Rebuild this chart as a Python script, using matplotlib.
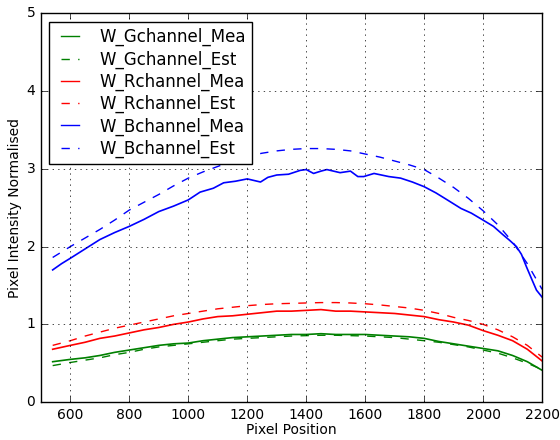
import matplotlib
matplotlib.use('Agg')
import matplotlib.pyplot as plt

# Положения по оси X (пиксели)
x_grid = [540, 600, 650, 700, 750, 800, 850, 900, 950, 1000, 1050, 1100, 1150, 1200,
          1250, 1300, 1350, 1400, 1450, 1500, 1550, 1600, 1650, 1700, 1750, 1800,
          1850, 1900, 1950, 2000, 2050, 2100, 2150, 2200]

# Зелёный канал
g_mea = [0.52, 0.55, 0.57, 0.60, 0.64, 0.67, 0.70, 0.73, 0.75, 0.76, 0.79, 0.81, 0.83, 0.84,
         0.85, 0.86, 0.87, 0.87, 0.88, 0.87, 0.87, 0.87, 0.86, 0.85, 0.84, 0.82,
         0.78, 0.75, 0.72, 0.69, 0.66, 0.60, 0.52, 0.41]
g_est = [0.47, 0.51, 0.54, 0.57, 0.61, 0.64, 0.68, 0.71, 0.73, 0.75, 0.77, 0.79, 0.81, 0.82,
         0.83, 0.84, 0.85, 0.855, 0.86, 0.86, 0.855, 0.85, 0.84, 0.83, 0.81, 0.79,
         0.77, 0.74, 0.71, 0.67, 0.63, 0.57, 0.50, 0.42]

# Красный канал
r_mea = [0.68, 0.73, 0.77, 0.82, 0.85, 0.89, 0.93, 0.96, 1.00, 1.03, 1.07, 1.10, 1.11, 1.13,
         1.15, 1.17, 1.17, 1.18, 1.19, 1.17, 1.17, 1.16, 1.15, 1.14, 1.12, 1.10,
         1.06, 1.03, 0.99, 0.92, 0.86, 0.79, 0.68, 0.53]
r_est = [0.73, 0.79, 0.85, 0.90, 0.95, 0.99, 1.03, 1.07, 1.11, 1.14, 1.17, 1.20, 1.22, 1.24,
         1.255, 1.265, 1.27, 1.275, 1.28, 1.28, 1.275, 1.265, 1.25, 1.23, 1.21, 1.18,
         1.14, 1.09, 1.05, 1.00, 0.93, 0.84, 0.73, 0.58]

# Синий канал
b_est = [1.86, 2.00, 2.11, 2.22, 2.34, 2.47, 2.57, 2.67, 2.78, 2.88, 2.96, 3.03, 3.10, 3.16,
         3.20, 3.23, 3.25, 3.26, 3.26, 3.25, 3.23, 3.19, 3.15, 3.10, 3.05, 2.99,
         2.88, 2.76, 2.62, 2.46, 2.28, 2.06, 1.78, 1.45]
x_b_mea = [540, 570, 600, 650, 700, 750, 800, 850, 900, 950, 1000, 1040, 1085, 1120, 1160,
           1200, 1245, 1270, 1300, 1340, 1380, 1400, 1425, 1450, 1470, 1515, 1550, 1575,
           1595, 1630, 1680, 1720, 1760, 1800, 1840, 1870, 1925, 1960, 2000, 2035, 2068,
           2090, 2113, 2130, 2147, 2165, 2181, 2200]
b_mea = [1.70, 1.78, 1.85, 1.97, 2.09, 2.18, 2.26, 2.35, 2.45, 2.52, 2.60, 2.70, 2.75, 2.82, 2.84,
         2.87, 2.83, 2.89, 2.92, 2.93, 2.98, 2.99, 2.94, 2.97, 2.99, 2.95, 2.97, 2.90,
         2.90, 2.94, 2.90, 2.88, 2.83, 2.77, 2.69, 2.62, 2.49, 2.43, 2.34, 2.26, 2.15,
         2.08, 2.00, 1.90, 1.74, 1.58, 1.44, 1.35]

plt.style.use('classic')
fig = plt.figure(figsize=(5.6, 4.4), dpi=100, facecolor='white')
ax = fig.add_axes([0.073, 0.086, 0.895, 0.884])

ax.plot(x_grid, g_mea, 'g-', lw=1.2, label='W_Gchannel_Mea')
ax.plot(x_grid, g_est, 'g--', label='W_Gchannel_Est')
ax.plot(x_grid, r_mea, 'r-', lw=1.2, label='W_Rchannel_Mea')
ax.plot(x_grid, r_est, 'r--', label='W_Rchannel_Est')
ax.plot(x_b_mea, b_mea, 'b-', lw=1.2, label='W_Bchannel_Mea')
ax.plot(x_grid, b_est, 'b--', label='W_Bchannel_Est')

ax.set_xlim(500, 2200)
ax.set_ylim(0, 5)
ax.set_xticks(range(600, 2201, 200))
ax.set_yticks(range(0, 6))
ax.tick_params(labelsize=10)
ax.set_xlabel('Pixel Position', fontsize=10, labelpad=1)
ax.set_ylabel('Pixel Intensity Normalised', fontsize=10, labelpad=3)
ax.grid(True)
leg = ax.legend(loc='upper left', fontsize=12, handlelength=1.7, handletextpad=0.9,
                labelspacing=0.24, borderaxespad=0.5)
for h in leg.get_lines():
    h.set_linewidth(1.0)

fig.savefig('out.png', dpi=100, facecolor='white')
